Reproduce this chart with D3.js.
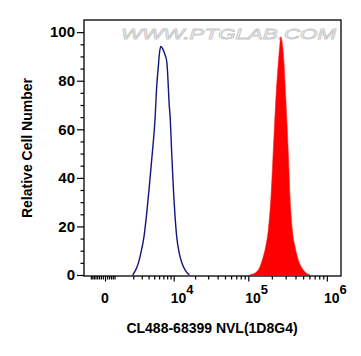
<!DOCTYPE html>
<html><head><meta charset="utf-8">
<script src="https://cdn.jsdelivr.net/npm/d3@7"></script>
<style>body{margin:0;background:#fff}svg{display:block}</style>
</head><body>
<svg id="c" width="361" height="356"></svg>
<script>
// ---- data ----
const yTicks = [0, 20, 40, 60, 80, 100];
const xMajorTicks = [0, 1e4, 1e5, 1e6];
const xMajorLabels = [["0", ""], ["10", "4"], ["10", "5"], ["10", "6"]];
const xTitle = "CL488-68399 NVL(1D8G4)";
const yTitle = "Relative Cell Number";
const watermark = "WWW.PTGLAB.COM";

// unstained / control (blue outline)
const blueX = [1941, 2261, 2562, 2872, 3307, 3599, 4120, 4640, 5147, 5488, 5824, 6043, 6359,
               6983, 7416, 7872, 8039, 8322, 8526, 8916, 9351, 9872, 10558, 11063, 12056, 13170, 14515, 16662];
const blueY = [0, 2.1, 4.8, 8.9, 15.8, 22.7, 36.4, 50.2, 63.9, 77.7, 85.7, 90.7, 94.1,
               92.6, 90.7, 88.0, 85.2, 77.7, 71.5, 63.9, 50.2, 36.4, 22.7, 15.8, 8.9, 4.8, 2.1, 0];

// stained sample (red filled)
const redX = [105150, 112550, 134360, 151150, 167050, 180320, 195190, 205170, 215030, 226020, 241790, 251930, 259410,
              275050, 285740, 300320, 314720, 327850, 340580, 364290, 394210, 434130, 502570, 611070];
const redY = [0, 0.3, 2.1, 6.2, 11.7, 18.6, 32.3, 46.1, 59.8, 73.5, 87.3, 94.1, 98.0,
              94.1, 87.3, 73.5, 59.8, 46.1, 32.3, 18.6, 11.7, 6.2, 2.1, 0];

// ---- layout ----
const L = 84, R = 341, T = 20, B = 276;
const svg = d3.select("#c");
const font = "'Liberation Sans', Arial, sans-serif";

const x = d3.scaleSymlog().constant(1565).domain([-1320, 1.5096e6]).range([L, R]);
const y = d3.scaleLinear().domain([0, 105]).range([275, T]);

// watermark
svg.append("text")
  .attr("x", 121).attr("y", 39)
  .attr("textLength", 215).attr("lengthAdjust", "spacingAndGlyphs")
  .attr("font-family", font).attr("font-size", 15).attr("font-style", "italic")
  .attr("fill", "#fff").attr("stroke", "#c8c8c8").attr("stroke-width", 0.8)
  .text(watermark);

// red filled histogram
const redData = redX.map((v, i) => [v, redY[i]]);
svg.append("path")
  .datum(redData)
  .attr("fill", "#ff0000")
  .attr("stroke", "#ff2020").attr("stroke-width", 0.6)
  .attr("d", d3.area().x(d => x(d[0])).y0(y(0)).y1(d => y(d[1])).curve(d3.curveMonotoneX));

// blue outline histogram
const blueData = blueX.map((v, i) => [v, blueY[i]]);
svg.append("path")
  .datum(blueData)
  .attr("fill", "none")
  .attr("stroke", "#14147e").attr("stroke-width", 1.4)
  .attr("d", d3.line().x(d => x(d[0])).y(d => y(d[1])).curve(d3.curveMonotoneX));

// frame
svg.append("rect").attr("x", L).attr("y", T).attr("width", R - L).attr("height", B - T)
  .attr("fill", "none").attr("stroke", "#000").attr("stroke-width", 1.3);

// y axis
const yMinor = d3.range(0, 101, 5).filter(v => v % 20 !== 0);
const gyMinor = svg.append("g").attr("transform", `translate(${L},0)`)
  .call(d3.axisLeft(y).tickValues(yMinor).tickSize(3.5).tickFormat(""));
const gy = svg.append("g").attr("transform", `translate(${L},0)`)
  .call(d3.axisLeft(y).tickValues(yTicks).tickSize(7).tickPadding(2).tickFormat(d3.format("d")));
[gy, gyMinor].forEach(g => { g.select(".domain").remove(); g.selectAll("line").attr("stroke-width", 1.2); });
gy.selectAll("text").attr("font-family", font).attr("font-weight", "bold").attr("font-size", 15).attr("fill", "#000");

// x axis
const xMinor = [];
for (let v = -800; v <= 500; v += 100) if (v !== 0) xMinor.push(v);
for (let k = 3; k <= 5; k++) for (let m = 2; m <= 9; m++) xMinor.push(m * Math.pow(10, k));
const gxMinor = svg.append("g").attr("transform", `translate(0,${B})`)
  .call(d3.axisBottom(x).tickValues(xMinor).tickSize(3.5).tickFormat(""));
const gx = svg.append("g").attr("transform", `translate(0,${B})`)
  .call(d3.axisBottom(x).tickValues(xMajorTicks).tickSize(5.5).tickFormat(""));
[gx, gxMinor].forEach(g => { g.select(".domain").remove(); g.selectAll("line").attr("stroke-width", 1.2); });

const lab = svg.append("g").selectAll("text").data(xMajorTicks).join("text")
  .attr("font-family", font).attr("font-weight", "bold").attr("font-size", 14).attr("fill", "#000")
  .attr("y", 303)
  .attr("x", (d, i) => i === 0 ? x(d) : x(d) - 3)
  .attr("text-anchor", (d, i) => i === 0 ? "middle" : "start");
lab.append("tspan").text((d, i) => xMajorLabels[i][0]);
lab.append("tspan").attr("dy", -9).attr("font-size", 13).text((d, i) => xMajorLabels[i][1]);

// titles
svg.append("text").attr("x", 212).attr("y", 333).attr("text-anchor", "middle")
  .attr("font-family", font).attr("font-weight", "bold").attr("font-size", 14).text(xTitle);
svg.append("text").attr("transform", "translate(32,148) rotate(-90)").attr("text-anchor", "middle")
  .attr("font-family", font).attr("font-weight", "bold").attr("font-size", 14).text(yTitle);
</script>
</body></html>
